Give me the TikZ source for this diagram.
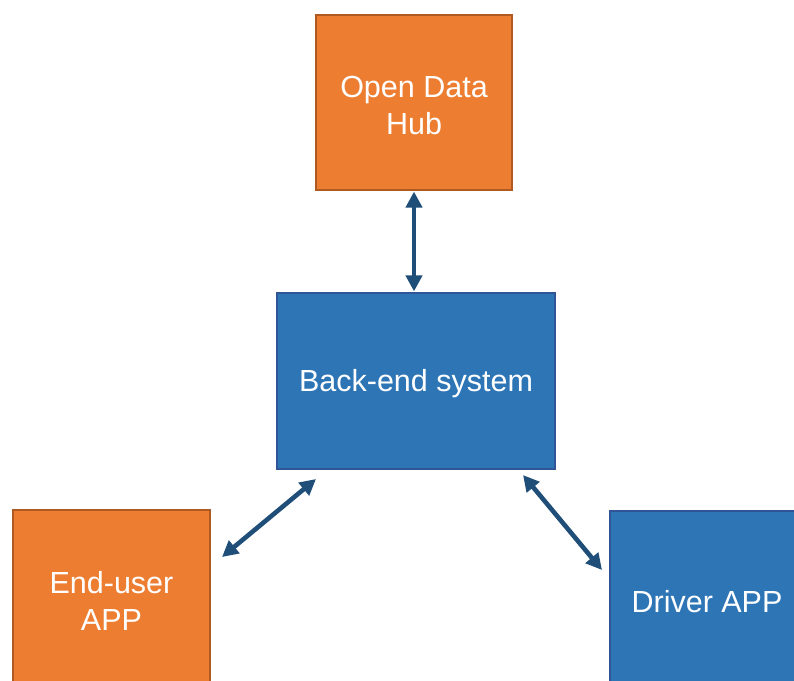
\documentclass[tikz,border=0pt]{standalone}
\usepackage{fontspec}
\setmainfont{Liberation Sans}
\usetikzlibrary{arrows.meta}
\definecolor{boxorange}{HTML}{ED7D31}
\definecolor{orangeedge}{HTML}{AE5A21}
\definecolor{boxblue}{HTML}{2E75B6}
\definecolor{blueedge}{HTML}{2F5597}
\definecolor{arrowblue}{HTML}{1F4E79}
\begin{document}
\begin{tikzpicture}[x=1pt,y=-1pt,
  box/.style={draw, line width=1.2pt, inner sep=0pt},
  boxtext/.style={text=white, align=center, yshift=-3pt,
    font=\fontsize{30.5}{37}\selectfont},
  obox/.style={box, fill=boxorange, draw=orangeedge},
  bbox/.style={box, fill=boxblue, draw=blueedge},
  link/.style={draw=arrowblue, line width=4.6pt,
    {Triangle[length=16pt,width=16pt]}-{Triangle[length=16pt,width=16pt]}}]
\useasboundingbox (0,0) rectangle (794,680);
\clip (0,0) rectangle (794,680);
\fill[white] (0,0) rectangle (794,680);
\node[obox, minimum width=196pt, minimum height=175pt,
  label={[boxtext]center:Open Data\\Hub}] (odh) at (414,102.5) {};
\node[bbox, minimum width=278pt, minimum height=176pt,
  label={[boxtext]center:Back-end system}] (be) at (416,381) {};
\node[obox, minimum width=197pt, minimum height=175pt,
  label={[boxtext]center:End-user\\APP}] (eu) at (111.5,597.5) {};
\node[bbox, minimum width=194pt, minimum height=175pt,
  label={[boxtext]center:Driver APP}] (drv) at (707,598.5) {};
\coordinate (eua) at (222,557);
\coordinate (eub) at (316,479);
\coordinate (dra) at (523,475);
\coordinate (drb) at (602,570);
\draw[link, shorten <=1pt, shorten >=1pt] (odh.south) -- (odh.south |- be.north);
\draw[link] (eua) -- (eub);
\draw[link] (dra) -- (drb);
\end{tikzpicture}
\end{document}
